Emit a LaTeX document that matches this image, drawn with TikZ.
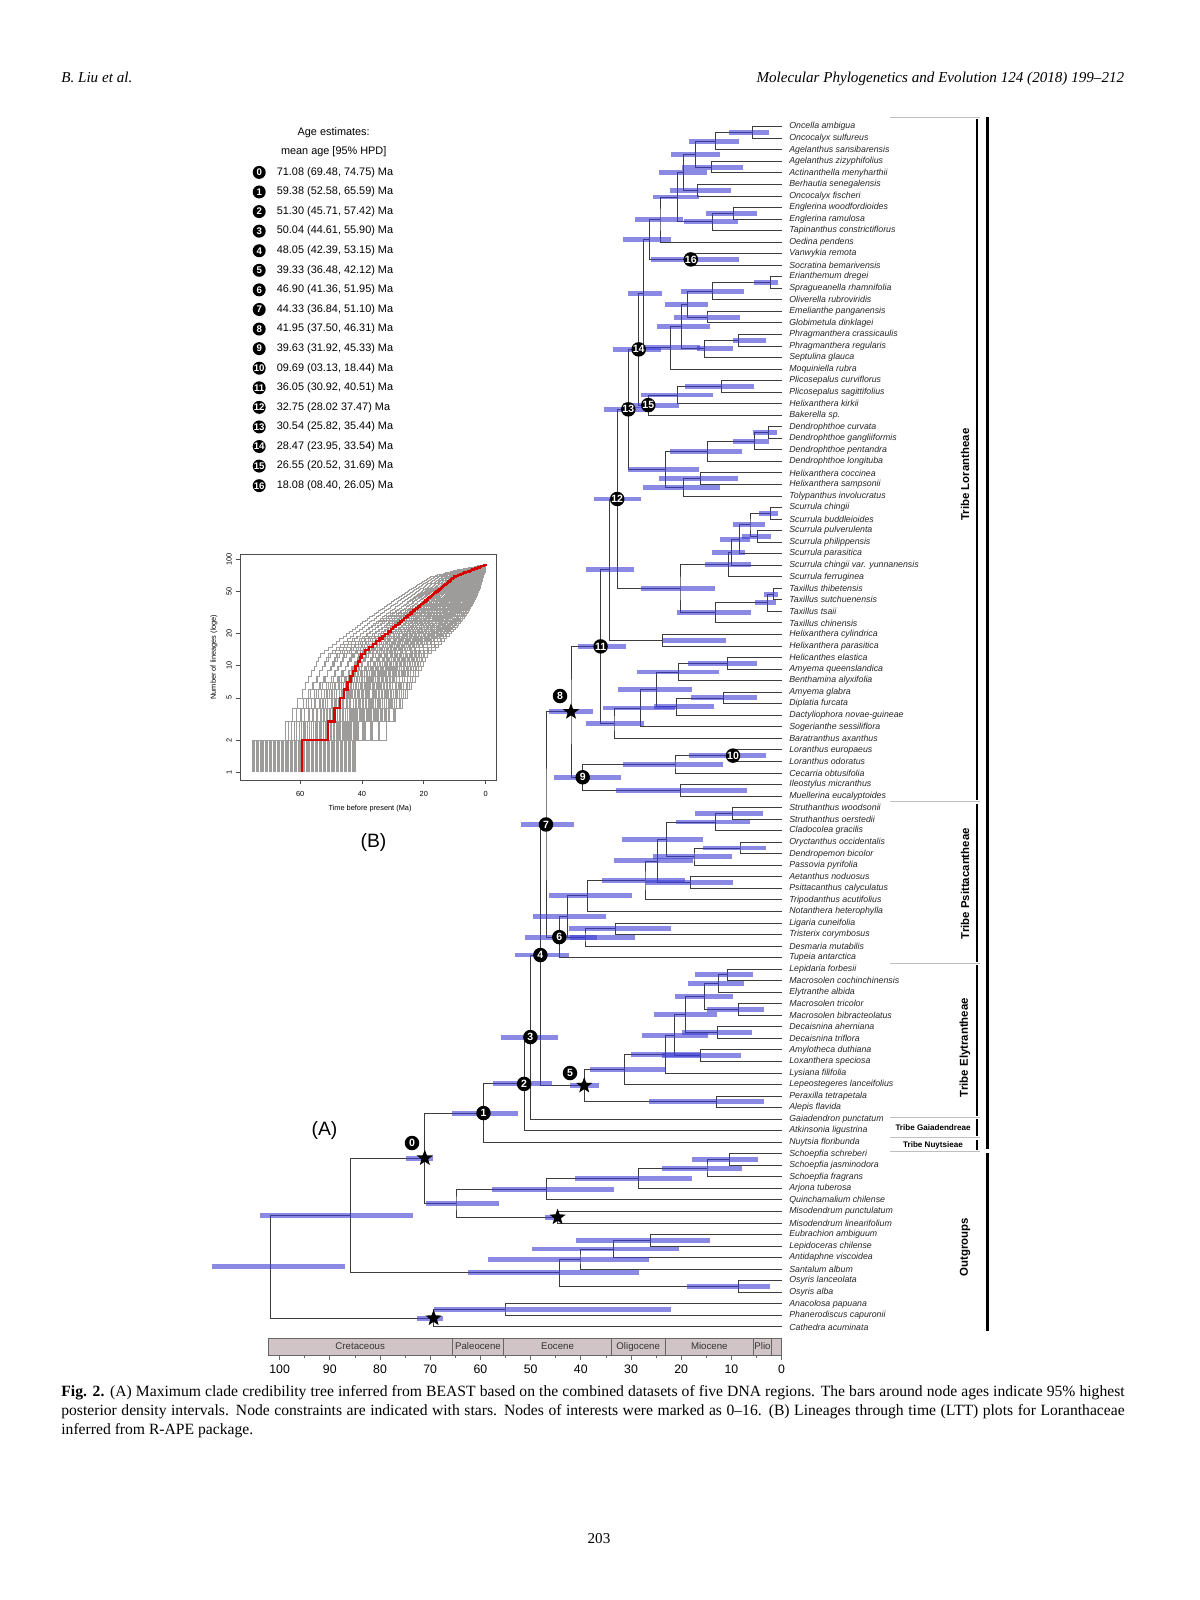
\documentclass[tikz,border=0pt]{standalone}
\usepackage{fontspec}
\setmainfont{Liberation Serif}
\setsansfont{Liberation Sans}
\usepackage{tikz}
\usetikzlibrary{calc,shapes.geometric}

\definecolor{hpdblue}{RGB}{60,60,210}
\definecolor{branchgray}{RGB}{60,60,60}
\definecolor{epochfill}{RGB}{208,196,198}
\definecolor{lttgray}{RGB}{158,155,155}

\pgfdeclarelayer{bars}
\pgfdeclarelayer{marks}
\pgfsetlayers{main,bars,marks}

\tikzset{
  branch/.style={draw=branchgray, line width=0.5pt},
  hpd/.style={draw=hpdblue, line width=2.8pt, opacity=0.6},
  tiplabel/.style={anchor=west, inner sep=0pt, text=black!85,
    font=\sffamily\itshape\fontsize{5}{6}\selectfont},
  numdot/.style={circle, fill=black, text=white, inner sep=0pt,
    minimum size=0.29cm, font=\sffamily\bfseries\fontsize{6}{6}\selectfont},
  legdot/.style={numdot, minimum size=0.26cm,
    font=\sffamily\bfseries\fontsize{5.5}{5.5}\selectfont},
  starmark/.style={star, star points=5, star point ratio=2.4, fill=black,
    inner sep=0pt, minimum size=0.34cm},
  legtext/.style={inner sep=0pt, font=\sffamily\fontsize{6.2}{7}\selectfont},
  tribebar/.style={line width=1.1pt},
  familybar/.style={line width=1.7pt},
  sepline/.style={draw=black!25, line width=0.5pt},
  tribelabel/.style={rotate=90, font=\sffamily\bfseries\fontsize{6.5}{7}\selectfont},
  smalltribe/.style={font=\sffamily\bfseries\fontsize{4.6}{5.5}\selectfont},
  epochbox/.style={draw=black!60, fill=epochfill, line width=0.4pt},
  epochlabel/.style={font=\sffamily\fontsize{5.5}{6}\selectfont, text=black!80},
  axislabel/.style={font=\sffamily\fontsize{7}{8}\selectfont},
  lttframe/.style={draw=black!70, line width=0.4pt},
  lttline/.style={draw=lttgray, line width=0.35pt},
  lttred/.style={draw=red!85!black, line width=1.3pt},
  ltttext/.style={font=\sffamily\fontsize{4.2}{5}\selectfont},
  paneltag/.style={font=\sffamily\fontsize{11}{12}\selectfont},
  capline/.style={anchor=base west, inner sep=0pt, font=\fontsize{8.9}{10}\selectfont},
  header/.style={inner sep=0pt, font=\itshape\fontsize{8.6}{10}\selectfont},
}

% clade: name, x, first child, second child, hpd from, hpd to
\newcommand\clade[6]{%
  \path let \p1=(#3), \p2=(#4) in ({#2*0.02cm},{0.5*\y1+0.5*\y2}) coordinate (#1);
  \draw[branch] (#3) -| (#1) |- (#4);
  \begin{pgfonlayer}{bars}
    \draw[hpd] (#1) ++(#5-#2,0) -- ++(#6-#5,0);
  \end{pgfonlayer}}

\begin{document}
\begin{tikzpicture}[x=0.02cm, y=-0.02cm,
  declare function={
    lx(\x)=485.7-3.093*\x;
    ly(\x)=772.3-106.5*log10(\x);
    tb(\x)=(log10(\x)<1.12) ? (51-(log10(\x)-0.477)/0.0585) :
      ((log10(\x)<1.84) ? (40-(log10(\x)-1.12)/0.024) : max(0.05,10-(log10(\x)-1.84)/0.011));}]
\useasboundingbox (0,0) rectangle (1200,1600);
\fill[white] (0,0) rectangle (1200,1600);

\node[header, anchor=base west] (author) at (61,82.5) {B. Liu et al.};
\node[header, anchor=base east] (journal) at (1124.5,82.5) {Molecular Phylogenetics and Evolution 124 (2018) 199--212};

% tips
\foreach \name [count=\i] in {Oncella ambigua, Oncocalyx sulfureus, Agelanthus sansibarensis,
  Agelanthus zizyphifolius, Actinanthella menyharthii, Berhautia senegalensis, Oncocalyx fischeri,
  Englerina woodfordioides, Englerina ramulosa, Tapinanthus constrictiflorus, Oedina pendens,
  Vanwykia remota, Socratina bemarivensis, Erianthemum dregei, Spragueanella rhamnifolia,
  Oliverella rubroviridis, Emelianthe panganensis, Globimetula dinklagei, Phragmanthera crassicaulis,
  Phragmanthera regularis, Septulina glauca, Moquiniella rubra, Plicosepalus curviflorus,
  Plicosepalus sagittifolius, Helixanthera kirkii, Bakerella sp., Dendrophthoe curvata,
  Dendrophthoe gangliiformis, Dendrophthoe pentandra, Dendrophthoe longituba, Helixanthera coccinea,
  Helixanthera sampsonii, Tolypanthus involucratus, Scurrula chingii, Scurrula buddleioides,
  Scurrula pulverulenta, Scurrula philippensis, Scurrula parasitica, Scurrula chingii var. yunnanensis,
  Scurrula ferruginea, Taxillus thibetensis, Taxillus sutchuenensis, Taxillus tsaii, Taxillus chinensis,
  Helixanthera cylindrica, Helixanthera parasitica, Helicanthes elastica, Amyema queenslandica,
  Benthamina alyxifolia, Amyema glabra, Diplatia furcata, Dactyliophora novae-guineae,
  Sogerianthe sessiliflora, Baratranthus axanthus, Loranthus europaeus, Loranthus odoratus,
  Cecarria obtusifolia, Ileostylus micranthus, Muellerina eucalyptoides, Struthanthus woodsonii,
  Struthanthus oerstedii, Cladocolea gracilis, Oryctanthus occidentalis, Dendropemon bicolor,
  Passovia pyrifolia, Aetanthus noduosus, Psittacanthus calyculatus, Tripodanthus acutifolius,
  Notanthera heterophylla, Ligaria cuneifolia, Tristerix corymbosus, Desmaria mutabilis,
  Tupeia antarctica, Lepidaria forbesii, Macrosolen cochinchinensis, Elytranthe albida,
  Macrosolen tricolor, Macrosolen bibracteolatus, Decaisnina aherniana, Decaisnina triflora,
  Amylotheca duthiana, Loxanthera speciosa, Lysiana filifolia, Lepeostegeres lanceifolius,
  Peraxilla tetrapetala, Alepis flavida, Gaiadendron punctatum, Atkinsonia ligustrina,
  Nuytsia floribunda, Schoepfia schreberi, Schoepfia jasminodora, Schoepfia fragrans,
  Arjona tuberosa, Quinchamalium chilense, Misodendrum punctulatum, Misodendrum linearifolium,
  Eubrachion ambiguum, Lepidoceras chilense, Antidaphne viscoidea, Santalum album,
  Osyris lanceolata, Osyris alba, Anacolosa papuana, Phanerodiscus capuronii, Cathedra acuminata}{
  \coordinate (t\i) at (781.6,{126.7+(\i-1)*11.54});
  \node[tiplabel] (lab\i) at (789,{126.7+(\i-1)*11.54}) {\name};
}

% Lorantheae
\clade{A}{752.7}{t1}{t2}{729}{769}
\clade{B}{715.7}{A}{t3}{688.7}{738.7}
\clade{C}{711.7}{t4}{t5}{681.7}{742.7}
\clade{D}{695.7}{B}{C}{671}{720}
\clade{E}{697.3}{t6}{t7}{670}{730.7}
\clade{F}{683.3}{D}{E}{659}{707}
\clade{G}{733.3}{t8}{t9}{705.7}{757.3}
\clade{H}{712.3}{G}{t10}{684.3}{738.3}
\clade{I}{677.3}{F}{H}{653.3}{699.3}
\clade{J}{660}{I}{t11}{635}{683.3}
\clade{n16}{690.8}{t12}{t13}{650.8}{739.4}
\clade{K}{649.3}{J}{n16}{622.7}{670.7}
\clade{L}{770.7}{t14}{t15}{754}{778.3}
\clade{M}{712.3}{L}{t16}{680.7}{743.7}
\clade{N}{707}{t17}{t18}{673.7}{740.3}
\clade{O}{687.3}{M}{N}{665}{708}
\clade{Q}{738.3}{t19}{t20}{733}{766}
\clade{R}{704.3}{Q}{t21}{697}{733}
\clade{P}{681.7}{O}{R}{656.7}{710}
\clade{S}{670.7}{P}{t22}{643}{700}
\clade{T}{643.5}{K}{S}{628}{662}
\clade{V}{721.7}{t23}{t24}{685}{754.3}
\clade{U}{677.3}{V}{t25}{641}{712.7}
\clade{n15}{648.3}{U}{t26}{622.5}{678.6}
\clade{n14}{638.7}{T}{n15}{613.2}{661.4}
\clade{X1}{768.3}{t27}{t28}{752.7}{777.3}
\clade{X2}{754.3}{X1}{t29}{732.7}{769.3}
\clade{X3}{707.3}{X2}{t30}{670}{741.7}
\clade{X4}{700.3}{t31}{t32}{659}{737.7}
\clade{X5}{683.3}{X4}{t33}{643.3}{720.3}
\clade{W}{665.3}{X3}{X5}{628.3}{699.3}
\clade{n13}{628.3}{n14}{W}{603.7}{652}
\clade{S1}{770.7}{t34}{t35}{759}{778.3}
\clade{S2}{757.3}{t36}{t37}{741.7}{771}
\clade{S3}{750}{S1}{S2}{732.7}{765.3}
\clade{S4}{739.3}{S3}{t38}{720}{750}
\clade{S5}{731.7}{S4}{t39}{712}{745}
\clade{S6}{728.3}{S5}{t40}{705}{750.7}
\clade{T1}{773.3}{t41}{t42}{764}{778.3}
\clade{T2}{767.7}{T1}{t43}{755}{776}
\clade{T3}{715.3}{T2}{t44}{676.7}{751}
\clade{Y}{680}{S6}{T3}{641}{715}
\clade{n12}{617.2}{n13}{Y}{593.5}{640.9}
\clade{HC}{662.7}{t45}{t46}{663}{726}
\clade{Z1}{609.3}{n12}{HC}{586}{634}
\clade{A1}{727.7}{t47}{t48}{688.3}{757.3}
\clade{A2}{678.3}{A1}{t49}{636.7}{719}
\clade{A3}{723.3}{t50}{t51}{691}{757.3}
\clade{A4}{676.7}{A3}{t52}{654}{714.3}
\clade{A5}{656.7}{A2}{A4}{618.3}{691.7}
\clade{A6}{640.7}{A5}{t53}{603}{675}
\clade{A7}{614}{A6}{t54}{586}{644.3}
\clade{n11}{600.6}{Z1}{A7}{578.2}{626.4}
\clade{n10}{733}{t55}{t56}{689}{765.9}
\clade{B1}{675}{n10}{t57}{623.3}{722.7}
\clade{B2}{680.7}{t58}{t59}{616}{746.7}
\clade{n9}{582.7}{B1}{B2}{554}{621.4}
\clade{n8}{571}{n11}{n9}{549.1}{593.3}
% Psittacantheae
\clade{P1}{732.3}{t60}{t61}{695}{763.3}
\clade{P2}{715.7}{P1}{t62}{676}{750}
\clade{P3}{740}{t63}{t64}{703.3}{766}
\clade{P4}{694}{P3}{t65}{653.3}{731.7}
\clade{P5}{666.7}{P2}{P4}{622.3}{703.3}
\clade{P6}{690.7}{t66}{t67}{645.7}{732.7}
\clade{P7}{657.3}{P5}{P6}{614}{693}
\clade{P8}{645}{P7}{t68}{601.7}{685}
\clade{P9}{587.3}{P8}{t69}{549}{632.3}
\clade{P10}{615.7}{t70}{t71}{569.3}{671}
\clade{P11}{585}{P10}{t72}{570}{635}
\clade{P12}{567.7}{P9}{P11}{533.3}{606}
\clade{n6}{559.3}{P12}{t73}{525.1}{596.7}
\clade{n7}{546}{n8}{n6}{520.8}{574}
% Elytrantheae
\clade{E10}{727.7}{t74}{t75}{695}{752.7}
\clade{E8}{718.7}{E10}{t76}{687.7}{744.3}
\clade{E9}{738.7}{t77}{t78}{706.7}{764}
\clade{E6}{704.7}{E8}{E9}{675}{733.3}
\clade{E7}{717.3}{t79}{t80}{681.7}{752.3}
\clade{E4}{685.7}{E6}{E7}{654.3}{716.7}
\clade{E5}{700.7}{t81}{t82}{661.7}{741}
\clade{E3}{674.3}{E4}{E5}{641.7}{708.3}
\clade{E2}{665.7}{E3}{t83}{631}{700}
\clade{E1}{624.3}{E2}{t84}{590}{665.7}
\clade{PA}{716.7}{t85}{t86}{649}{764}
\clade{n5}{584.2}{E1}{PA}{570.2}{598.5}
\clade{n4}{540.4}{n7}{n5}{514.8}{568.8}
\clade{n3}{530.4}{n4}{t87}{501}{557.7}
\clade{n2}{524.1}{n3}{t88}{493.4}{552.1}
\clade{n1}{483.5}{n2}{t89}{452.3}{517.6}
% outgroups
\clade{H1}{729.5}{t90}{t91}{691.7}{758}
\clade{H2}{707}{H1}{t92}{662}{742.2}
\clade{H3}{638.2}{H2}{t93}{575.4}{691.7}
\clade{H4}{546.3}{H3}{t94}{492.2}{613.7}
\clade{M1}{557.6}{t95}{t96}{545}{560}
\clade{G1}{456}{H4}{M1}{426}{499.4}
\clade{n0}{424.8}{n1}{G1}{406.4}{432.8}
\clade{K1}{650.9}{t97}{t98}{576.4}{709.6}
\clade{K2}{613.7}{K1}{t99}{532}{678.5}
\clade{K3}{580}{K2}{t100}{488.2}{649.4}
\clade{K4}{738.7}{t101}{t102}{686.6}{770.3}
\clade{K5}{559.6}{K3}{K4}{468.3}{639.2}
\clade{G2}{350.4}{n0}{K5}{260}{412.7}
\clade{L1}{505}{t103}{t104}{433.6}{670.8}
\clade{L2}{433.6}{L1}{t105}{417}{443.3}
\clade{root}{270.8}{G2}{L2}{211.6}{345.3}

\begin{pgfonlayer}{marks}
  \node[starmark] (star0) at (n0) {};
  \node[starmark] (star5) at (n5) {};
  \node[starmark] (star8) at (n8) {};
  \node[starmark] (starM) at (M1) {};
  \node[starmark] (starL) at (L2) {};
  \node[numdot] (c0) at (412,1143) {0};
  \node[numdot] (c5) at (570,1073) {5};
  \node[numdot] (c8) at (560,696) {8};
  \foreach \k in {1,2,3,4,6,7,9,10,11,12,13,14,15,16}
    \node[numdot] (c\k) at (n\k) {\k};
\end{pgfonlayer}

% tribes
\draw[sepline] (890,117.3) -- (980,117.3);
\draw[sepline] (890,801.7) -- (980,801.7);
\draw[sepline] (890,963.3) -- (980,963.3);
\draw[sepline] (890,1117.3) -- (980,1117.3);
\draw[sepline] (890,1137.7) -- (980,1137.7);
\draw[sepline] (890,1151) -- (980,1151);
\draw[tribebar] (977.3,119) -- (977.3,800);
\draw[tribebar] (977.3,803.5) -- (977.3,961.5);
\draw[tribebar] (977.3,965) -- (977.3,1115.5);
\draw[tribebar] (977.3,1119) -- (977.3,1136);
\draw[tribebar] (977.3,1140) -- (977.3,1149.5);
\draw[familybar] (987.3,117) -- (987.3,1149);
\draw[familybar] (987.3,1153) -- (987.3,1331);
\node[tribelabel] (lor) at (965,474.5) {Tribe Lorantheae};
\node[tribelabel] (psi) at (965,883.7) {Tribe Psittacantheae};
\node[tribelabel] (ely) at (965,1047.5) {Tribe Elytrantheae};
\node[tribelabel] (out) at (965,1247) {Outgroups};
\node[smalltribe] (gai) at (933,1127.7) {Tribe Gaiadendreae};
\node[smalltribe] (nuy) at (933,1145) {Tribe Nuytsieae};

% time scale
\draw[epochbox] (267.9,1338) rectangle (781.6,1355);
\foreach \b in {452.5,503.6,611.4,665,753.6,771.4}
  \draw[draw=black!60, line width=0.4pt] (\b,1338) -- (\b,1355);
\foreach \nm/\cx in {Cretaceous/360.2, Paleocene/478, Eocene/557.5, Oligocene/638.2, Miocene/709.3, Plio/762.5}
  \node[epochlabel] (ep\nm) at (\cx,1346.5) {\nm};
\foreach \tm in {0,5,...,100}
  \draw[draw=black!60, line width=0.4pt] ({781.6-5.02*\tm},1355) -- ++(0,2.5);
\foreach \tm in {0,10,...,100}{
  \draw[draw=black!60, line width=0.4pt] ({781.6-5.02*\tm},1355) -- ++(0,5);
  \node[axislabel] (ax\tm) at ({781.6-5.02*\tm},1369) {\tm};
}

\node[paneltag] (tagA) at (324.5,1130.6) {(A)};
\node[paneltag] (tagB) at (373.5,842) {(B)};

% legend
\node[legtext] (legt1) at (333.7,132.7) {Age estimates:};
\node[legtext] (legt2) at (333.7,152) {mean age [95\% HPD]};
\foreach \txt [count=\i from 0] in {{71.08 (69.48, 74.75) Ma},{59.38 (52.58, 65.59) Ma},
  {51.30 (45.71, 57.42) Ma},{50.04 (44.61, 55.90) Ma},{48.05 (42.39, 53.15) Ma},
  {39.33 (36.48, 42.12) Ma},{46.90 (41.36, 51.95) Ma},{44.33 (36.84, 51.10) Ma},
  {41.95 (37.50, 46.31) Ma},{39.63 (31.92, 45.33) Ma},{09.69 (03.13, 18.44) Ma},
  {36.05 (30.92, 40.51) Ma},{32.75 (28.02 37.47) Ma},{30.54 (25.82, 35.44) Ma},
  {28.47 (23.95, 33.54) Ma},{26.55 (20.52, 31.69) Ma},{18.08 (08.40, 26.05) Ma}}{
  \node[legdot] (ld\i) at (259.2,{172.4+\i*19.58}) {\i};
  \node[legtext, anchor=west] (le\i) at (276.5,{172.4+\i*19.58}) {\txt};
}

% LTT plot
\foreach \i in {0,...,79}{
  \pgfmathsetmacro\rt{42+34*mod(\i*37,80)/80}
  \pgfmathsetmacro\pw{0.78+1.45*mod(\i*29,80)/80}
  \draw[lttline] ({lx(\rt)},{ly(1)}) -- ({lx(\rt)},{ly(2)})
    \foreach \k in {3,...,89}{ -| ({lx(\rt*(tb(\k)/59.38)^\pw)},{ly(\k)}) }
    -- ({lx(0)},{ly(89)});
}
\draw[lttred] ({lx(59.38)},{ly(1)}) -- ({lx(59.38)},{ly(2)})
  \foreach \k in {3,...,89}{ -| ({lx(tb(\k))},{ly(\k)}) }
  -- ({lx(0)},{ly(89)});
\draw[lttframe] (240,554) rectangle (496,780);
\foreach \n in {1,2,5,10,20,50,100}{
  \draw[lttframe] (240,{ly(\n)}) -- ++(-4,0);
  \node[ltttext, rotate=90] (ny\n) at (229,{ly(\n)}) {\n};
}
\foreach \tm in {60,40,20,0}{
  \draw[lttframe] ({lx(\tm)},780) -- ++(0,4);
  \node[ltttext] (tx\tm) at ({lx(\tm)},794) {\tm};
}
\node[ltttext] (lttx) at (370,809) {Time before present (Ma)};
\node[ltttext, rotate=90] (ltty) at (214,657) {Number of lineages (loge)};

% caption
\node[capline] (cap1) at (61,1396) {\makebox[21.27cm][s]{\textbf{Fig. 2.} (A) Maximum clade credibility tree inferred from BEAST based on the combined datasets of five DNA regions. The bars around node ages indicate 95\% highest}};
\node[capline] (cap2) at (61,1415.4) {\makebox[21.27cm][s]{posterior density intervals. Node constraints are indicated with stars. Nodes of interests were marked as 0--16. (B) Lineages through time (LTT) plots for Loranthaceae}};
\node[capline] (cap3) at (61,1434.8) {inferred from R-APE package.};
\node[header, font=\fontsize{8.6}{10}\selectfont] (page) at (599,1539) {203};
\end{tikzpicture}
\end{document}
